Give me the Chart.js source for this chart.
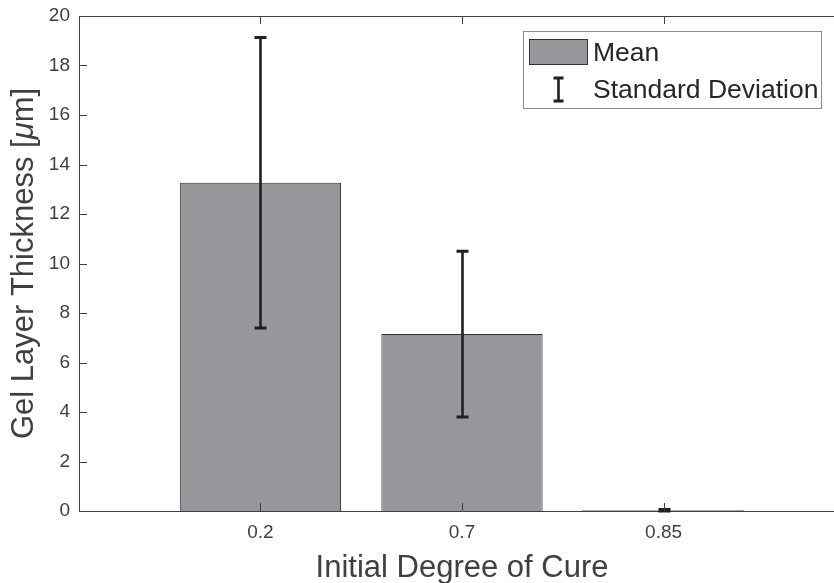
<!DOCTYPE html>
<html>
<head>
<meta charset="utf-8">
<script src="https://cdn.jsdelivr.net/npm/chart.js@4/dist/chart.umd.min.js"></script>
<style>
  html, body { margin: 0; padding: 0; background: #ffffff; overflow: hidden; }
  #wrap { width: 846px; height: 583px; }
</style>
</head>
<body>
<div id="wrap"><canvas id="chart" width="846" height="583"></canvas></div>
<script>
// Gel layer thickness vs. initial degree of cure (mean ± standard deviation)
const categories = ['0.2', '0.7', '0.85'];
const positions = [1, 2, 3];
const meanThickness = [13.26, 7.15, 0.03];
const stdThickness = [5.87, 3.35, 0.03];
const yTickValues = [0, 2, 4, 6, 8, 10, 12, 14, 16, 18, 20];

const FONT = "'Liberation Sans', Arial, sans-serif";
const AXIS_COLOR = '#404040';
const BAR_FILL = '#96979b';
const BAR_EDGE = '#333333';
const ERR_COLOR = '#231f20';
const TICK_LEN = 8;

// Box around the axes, inward tick marks, axis titles and error bars
const decorations = {
  id: 'decorations',
  afterDatasetsDraw(chart) {
    const ctx = chart.ctx;
    const xs = chart.scales.x, ys = chart.scales.y;
    ctx.save();
    ctx.strokeStyle = ERR_COLOR;
    ctx.lineCap = 'butt';
    positions.forEach((p, i) => {
      const cx = Math.round(xs.getPixelForValue(p)) + 0.5;
      const yHi = ys.getPixelForValue(meanThickness[i] + stdThickness[i]);
      const yLo = ys.getPixelForValue(Math.max(0, meanThickness[i] - stdThickness[i]));
      ctx.lineWidth = 2.6;
      ctx.beginPath();
      ctx.moveTo(cx, yHi);
      ctx.lineTo(cx, yLo);
      ctx.stroke();
      ctx.lineWidth = 3;
      ctx.beginPath();
      ctx.moveTo(cx - 6, yHi); ctx.lineTo(cx + 6, yHi);
      ctx.moveTo(cx - 6, yLo); ctx.lineTo(cx + 6, yLo);
      ctx.stroke();
    });
    ctx.restore();
  },
  afterDraw(chart) {
    const ctx = chart.ctx;
    const a = chart.chartArea;
    const xs = chart.scales.x, ys = chart.scales.y;
    ctx.save();
    ctx.strokeStyle = AXIS_COLOR;
    ctx.lineWidth = 1;
    // top edge of the box
    ctx.beginPath();
    ctx.moveTo(a.left, a.top + 0.5);
    ctx.lineTo(a.right, a.top + 0.5);
    ctx.stroke();
    // x ticks, bottom and top, pointing inward
    ctx.beginPath();
    positions.forEach(p => {
      const x = Math.round(xs.getPixelForValue(p)) + 0.5;
      ctx.moveTo(x, a.bottom); ctx.lineTo(x, a.bottom - TICK_LEN);
      ctx.moveTo(x, a.top); ctx.lineTo(x, a.top + TICK_LEN);
    });
    // y ticks on the left, pointing inward
    yTickValues.forEach(v => {
      const y = Math.round(ys.getPixelForValue(v)) + 0.5;
      ctx.moveTo(a.left, y); ctx.lineTo(a.left + TICK_LEN, y);
    });
    ctx.stroke();

    // axis titles
    ctx.fillStyle = AXIS_COLOR;
    ctx.textBaseline = 'alphabetic';
    ctx.font = '31px ' + FONT;
    ctx.textAlign = 'center';
    ctx.fillText('Initial Degree of Cure', (a.left + a.right) / 2, 577);

    const parts = [
      { t: 'Gel Layer Thickness [', f: '31px ' + FONT },
      { t: '\u03bc', f: 'italic 31px ' + FONT },
      { t: 'm]', f: '31px ' + FONT }
    ];
    let total = 0;
    parts.forEach(pt => { ctx.font = pt.f; pt.w = ctx.measureText(pt.t).width; total += pt.w; });
    ctx.translate(33, (a.top + a.bottom) / 2);
    ctx.rotate(-Math.PI / 2);
    ctx.textAlign = 'left';
    let cur = -total / 2;
    parts.forEach(pt => { ctx.font = pt.f; ctx.fillText(pt.t, cur, 0); cur += pt.w; });
    ctx.restore();

    // legend
    ctx.save();
    const lx = 523.5, ly = 31.5, lw = 298, lh = 77;
    ctx.fillStyle = '#ffffff';
    ctx.fillRect(lx, ly, lw, lh);
    ctx.strokeStyle = '#8c8c8c';
    ctx.lineWidth = 1;
    ctx.strokeRect(lx, ly, lw, lh);
    ctx.fillStyle = BAR_FILL;
    ctx.fillRect(529.5, 39.5, 58, 25);
    ctx.strokeStyle = BAR_EDGE;
    ctx.strokeRect(529.5, 39.5, 58, 25);
    ctx.strokeStyle = ERR_COLOR;
    ctx.lineWidth = 2.6;
    ctx.beginPath();
    ctx.moveTo(558.5, 78); ctx.lineTo(558.5, 101);
    ctx.stroke();
    ctx.lineWidth = 3;
    ctx.beginPath();
    ctx.moveTo(553.5, 78); ctx.lineTo(563.5, 78);
    ctx.moveTo(553.5, 101); ctx.lineTo(563.5, 101);
    ctx.stroke();
    ctx.fillStyle = '#262626';
    ctx.font = '26.5px ' + FONT;
    ctx.textAlign = 'left';
    ctx.textBaseline = 'alphabetic';
    ctx.fillText('Mean', 593, 61);
    ctx.fillText('Standard Deviation', 593, 98);
    ctx.restore();
  }
};

new Chart(document.getElementById('chart'), {
  type: 'bar',
  data: {
    datasets: [{
      label: 'Mean',
      data: positions.map((p, i) => ({ x: p, y: meanThickness[i] })),
      backgroundColor: BAR_FILL,
      borderColor: BAR_EDGE,
      borderWidth: 1,
      barPercentage: 0.8,
      categoryPercentage: 1.0
    }]
  },
  options: {
    responsive: false,
    animation: false,
    layout: { padding: { top: 16, left: 0, right: 1, bottom: 0 } },
    plugins: { legend: { display: false }, tooltip: { enabled: false } },
    scales: {
      x: {
        type: 'linear',
        offset: false,
        min: 0.1,
        max: 3.9,
        afterBuildTicks: s => { s.ticks = positions.map(v => ({ value: v })); },
        afterFit: s => { s.height = 72; s.paddingLeft = 0; s.paddingRight = 0; },
        ticks: {
          autoSkip: false,
          maxRotation: 0,
          padding: 10,
          color: AXIS_COLOR,
          font: { family: FONT, size: 19 },
          callback: v => categories[positions.indexOf(v)]
        },
        grid: { display: false, drawTicks: false, offset: false },
        border: { display: true, color: AXIS_COLOR, width: 1 }
      },
      y: {
        min: 0,
        max: 20,
        afterBuildTicks: s => { s.ticks = yTickValues.map(v => ({ value: v })); },
        afterFit: s => { s.width = 79; s.paddingTop = 0; s.paddingBottom = 0; },
        ticks: {
          padding: 9,
          color: AXIS_COLOR,
          font: { family: FONT, size: 19 }
        },
        grid: { display: false, drawTicks: false },
        border: { display: true, color: AXIS_COLOR, width: 1 }
      }
    }
  },
  plugins: [decorations]
});
</script>
</body>
</html>
